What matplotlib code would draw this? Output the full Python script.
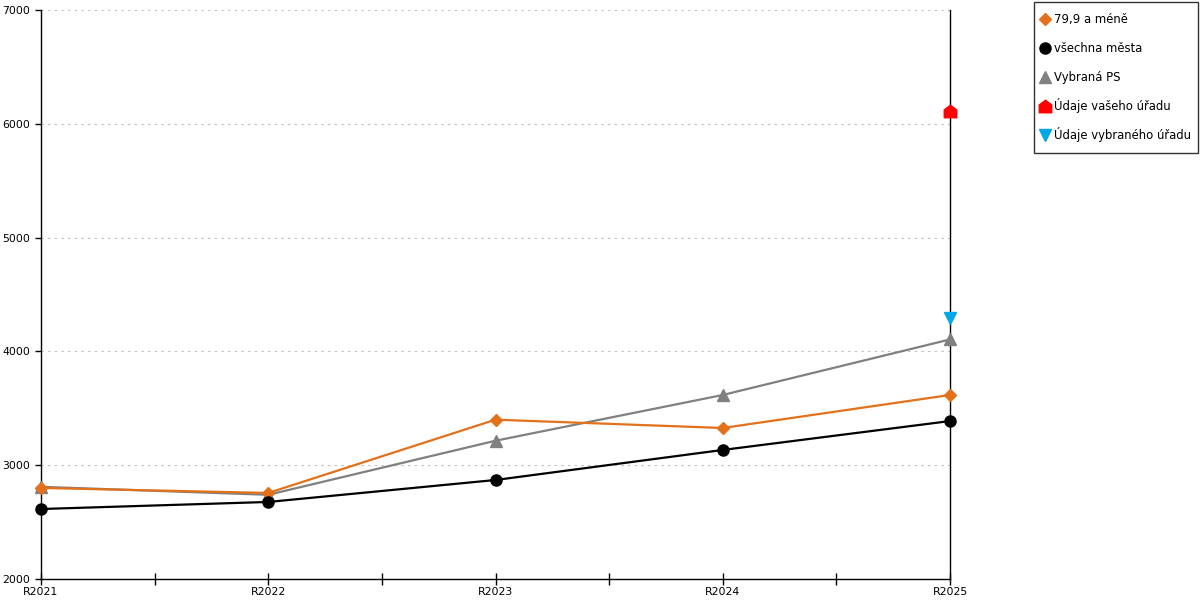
import matplotlib
matplotlib.use("Agg")
import matplotlib.pyplot as plt
from matplotlib.path import Path
from matplotlib.lines import Line2D
from matplotlib.legend_handler import HandlerLine2D

categories = ["R2021", "R2022", "R2023", "R2024", "R2025"]
s_small = [2800, 2756, 3400, 3327, 3617]      # 79,9 a méně
s_all = [2615, 2677, 2870, 3134, 3388]        # všechna města
s_ps = [2810, 2740, 3215, 3617, 4105]         # Vybraná PS
office_yours = 6115                            # Údaje vašeho úřadu (R2025)
office_sel = 4295                              # Údaje vybraného úřadu (R2025)
labels = ["79,9 a méně", "všechna města", "Vybraná PS", "Údaje vašeho úřadu", "Údaje vybraného úřadu"]

plt.rcParams['font.family'] = ['DejaVu Sans']
fig = plt.figure(figsize=(12, 6), dpi=100)
ax = fig.add_axes([41/1200, 21/600, (950-41)/1200, (579-10)/600])

house = Path([(-1, -1), (1, -1), (1, 0.25), (0, 1), (-1, 0.25), (-1, -1)],
             [Path.MOVETO, Path.LINETO, Path.LINETO, Path.LINETO, Path.LINETO, Path.CLOSEPOLY])

x = list(range(len(categories)))
c_orange = "#E3701A"
c_gray = "#808080"
c_blue = "#00A8E8"
ax.plot(x, s_ps, color=c_gray, lw=1.6, marker="^", ms=8, clip_on=False, zorder=3)
ax.plot(x, s_small, color=c_orange, lw=1.6, marker="D", ms=6, clip_on=False, zorder=4)
ax.plot(x, s_all, color="black", lw=1.6, marker="o", ms=8, clip_on=False, zorder=5)
ax.plot([x[-1]], [office_yours], linestyle="none", marker=house, color="#FF0000", ms=9, clip_on=False, zorder=6)
ax.plot([x[-1]], [office_sel], linestyle="none", marker="v", color=c_blue, ms=8, clip_on=False, zorder=6)

ax.set_xlim(0, len(categories) - 1)
ax.set_ylim(2000, 7000)
ax.set_xticks(x)
ax.set_xticklabels(categories, fontsize=7.8)
ax.set_xticks([i + 0.5 for i in x[:-1]], minor=True)
ax.tick_params(axis="x", which="both", direction="inout", length=8, width=1, pad=2)
ax.set_yticks(range(2000, 7001, 1000))
ax.tick_params(axis="y", direction="out", length=4, width=1, labelsize=7.8, pad=4)
ax.yaxis.grid(True, linestyle=(0, (2, 4)), color="#BBBBBB", lw=0.8)
ax.set_axisbelow(True)
for s in ["left", "bottom", "right"]:
    ax.spines[s].set_color("black")
    ax.spines[s].set_linewidth(1)
ax.spines["top"].set_visible(False)


class ShiftedHandler(HandlerLine2D):
    def create_artists(self, legend, orig_handle, xdescent, ydescent, width, height, fontsize, trans):
        arts = super().create_artists(legend, orig_handle, xdescent, ydescent, width, height, fontsize, trans)
        for a in arts:
            a.set_ydata([y - 0.27 * fontsize for y in a.get_ydata()])
        return arts


handles = [
    Line2D([], [], linestyle="none", marker="D", color=c_orange, ms=6),
    Line2D([], [], linestyle="none", marker="o", color="black", ms=8),
    Line2D([], [], linestyle="none", marker="^", color=c_gray, ms=8),
    Line2D([], [], linestyle="none", marker=house, color="#FF0000", ms=9),
    Line2D([], [], linestyle="none", marker="v", color=c_blue, ms=8),
]
leg = fig.legend(handles, labels, loc="upper left", bbox_to_anchor=(1034/1200, 1 - 2/600),
                 fontsize=8.4, frameon=True, fancybox=False, edgecolor="black",
                 handlelength=0.6, handleheight=2.3, handletextpad=0.55, labelspacing=0.75,
                 borderpad=0.6, borderaxespad=0,
                 handler_map={Line2D: ShiftedHandler()})
leg.get_frame().set_linewidth(1)

fig.savefig("out.png", dpi=100)
